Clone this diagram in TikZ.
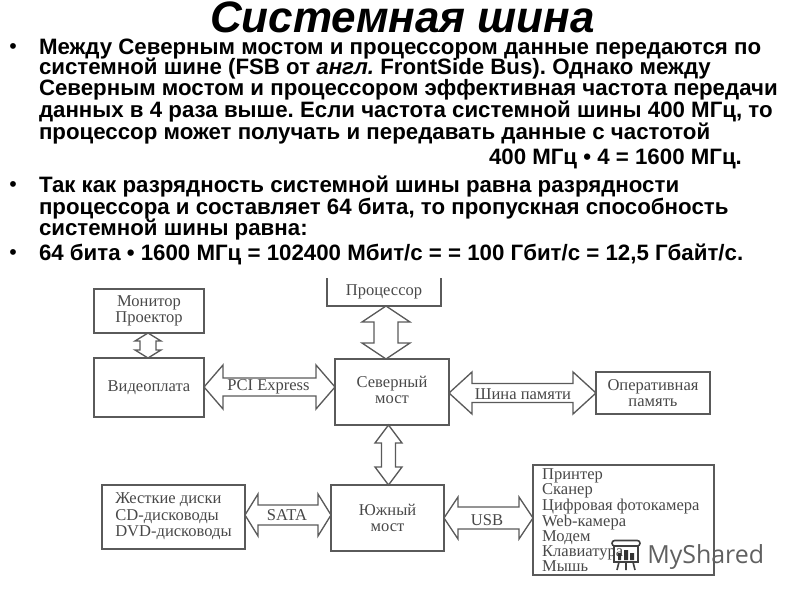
\documentclass[tikz,border=0pt]{standalone}
\usepackage{fontspec}
\setmainfont{Liberation Sans}
\newfontfamily\dgfont{Liberation Serif}
\newfontfamily\wmfont{Open Sans}
\usetikzlibrary{calc}
\definecolor{inkline}{HTML}{5A5A5A}
\definecolor{inktext}{HTML}{484848}
\definecolor{wmgray}{HTML}{606060}
\tikzset{
  slideline/.style={anchor=base west,inner sep=0pt,outer sep=0pt,font=\fontsize{16.7pt}{16.7pt}\selectfont\bfseries\frenchspacing,text=black},
  bullet/.style={anchor=base,inner sep=0pt,outer sep=0pt,font=\fontsize{16pt}{16pt}\selectfont,text=black},
  dbox/.style={draw=inkline,line width=1.1pt,inner sep=0pt,outer sep=0pt,text=inktext,font=\dgfont\fontsize{12.4pt}{12.4pt}\selectfont,align=center},
  nobox/.style={dbox,draw=none},
  bus/.style={draw=inkline,line width=1pt,fill=white,line join=miter},
  buslabel/.style={inner sep=0pt,text=inktext,font=\dgfont\fontsize{12.4pt}{12.4pt}\selectfont}
}
% box from pixel corners
\newcommand{\pxbox}[7][dbox]{\node[#1,minimum width={(#4-#2)*0.75pt},minimum height={(#5-#3)*0.75pt}] (#6) at ({(#2+#4)/2},{(#3+#5)/2}) {#7};}
% horizontal double arrow: from, to, shaft half, head half, head length (px)
\newcommand{\hbus}[5]{\draw[bus] let \p1=#1,\p2=#2 in
  (\x1,\y1) -- (\x1+#5*0.75pt,\y1+#4*0.75pt) -- (\x1+#5*0.75pt,\y1+#3*0.75pt) -- (\x2-#5*0.75pt,\y1+#3*0.75pt) -- (\x2-#5*0.75pt,\y1+#4*0.75pt) -- (\x2,\y2)
  -- (\x2-#5*0.75pt,\y1-#4*0.75pt) -- (\x2-#5*0.75pt,\y1-#3*0.75pt) -- (\x1+#5*0.75pt,\y1-#3*0.75pt) -- (\x1+#5*0.75pt,\y1-#4*0.75pt) -- cycle;}
\newcommand{\vbus}[5]{\draw[bus] let \p1=#1,\p2=#2 in
  (\x1,\y1) -- (\x1+#4*0.75pt,\y1-#5*0.75pt) -- (\x1+#3*0.75pt,\y1-#5*0.75pt) -- (\x1+#3*0.75pt,\y2+#5*0.75pt) -- (\x1+#4*0.75pt,\y2+#5*0.75pt) -- (\x2,\y2)
  -- (\x1-#4*0.75pt,\y2+#5*0.75pt) -- (\x1-#3*0.75pt,\y2+#5*0.75pt) -- (\x1-#3*0.75pt,\y1-#5*0.75pt) -- (\x1-#4*0.75pt,\y1-#5*0.75pt) -- cycle;}
\begin{document}
\begin{tikzpicture}[x=0.75pt,y=-0.75pt]
\useasboundingbox (0,0) rectangle (800,600);
\node[anchor=base,inner sep=0pt,font=\fontsize{33pt}{33pt}\selectfont\bfseries\itshape] (title) at (402.5,32.5) {Системная шина};
% bullets
\node[bullet] (b1) at (13,53) {•};
\node[bullet] (b2) at (13,191) {•};
\node[bullet] (b3) at (13,259) {•};
% text
\node[slideline] (l1) at (39,54) {Между Северным мостом и процессором данные передаются по};
\node[slideline] (l2) at (39,74.5) {системной шине (FSB от \textit{англ.} FrontSide Bus). Однако между};
\node[slideline] (l3) at (39,95.5) {Северным мостом и процессором эффективная частота передачи};
\node[slideline] (l4) at (39,117.5) {данных в 4 раза выше. Если частота системной шины 400 МГц, то};
\node[slideline] (l5) at (39,139) {процессор может получать и передавать данные с частотой};
\node[slideline] (l6) at (489,164.5) {400 МГц • 4 = 1600 МГц.};
\node[slideline] (l7) at (39,192.5) {Так как разрядность системной шины равна разрядности};
\node[slideline] (l8) at (39,214) {процессора и составляет 64 бита, то пропускная способность};
\node[slideline] (l9) at (39,235) {системной шины равна:};
\node[slideline] (l10) at (39,260.5) {64 бита • 1600 МГц = 102400 Мбит/с = = 100 Гбит/с = 12,5 Гбайт/с.};
% boxes
\pxbox{94}{289}{204}{333}{monitor}{Монитор\\Проектор}
\pxbox{94}{358}{204}{417}{video}{Видеоплата}
\pxbox[nobox]{327}{278}{441}{306}{cpu}{\raisebox{1.5pt}{Процессор}}
\draw[draw=inkline,line width=1.1pt] (cpu.north west) -- (cpu.south west) -- (cpu.south east) -- (cpu.north east);
\pxbox{335}{359}{449}{425}{north}{\raisebox{-2.25pt}{\begin{tabular}{@{}c@{}}Северный\\мост\end{tabular}}}
\pxbox{596}{372}{710}{414}{ram}{Оперативная\\память}
\pxbox{102}{485}{245}{549}{disks}{\begin{tabular}{@{}l@{}}Жесткие диски\\CD-дисководы\\DVD-дисководы\end{tabular}}
\pxbox{331}{485}{444}{551}{south}{Южный\\мост}
\pxbox{533}{465}{714}{575}{periph}{\begin{minipage}[c]{122pt}\raggedright\baselineskip=11.1pt Принтер\\Сканер\\Цифровая фотокамера\\Web-камера\\Модем\\Клавиатура\\Мышь\end{minipage}}
% connector axes
\coordinate (axmon) at (148,0);
\coordinate (axcpu) at (386,0);
\coordinate (axns) at (388.5,0);
\coordinate (axpci) at (0,387);
\coordinate (axmem) at (0,393);
\coordinate (axsata) at (0,515);
\coordinate (axusb) at (0,518);
\vbus{(monitor.south -| axmon)}{(video.north -| axmon)}{8}{13}{8}
\vbus{(cpu.south -| axcpu)}{(north.north -| axcpu)}{12}{24}{16}
\vbus{(north.south -| axns)}{(south.north -| axns)}{7}{13.5}{18}
\hbus{(video.east |- axpci)}{(north.west |- axpci)}{9}{22}{19}
\hbus{(north.east |- axmem)}{(ram.west |- axmem)}{9.5}{21}{23}
\hbus{(disks.east |- axsata)}{(south.west |- axsata)}{10}{21}{13}
\hbus{(south.east |- axusb)}{(periph.west |- axusb)}{11}{21}{14}
\node[buslabel] (lpci) at (268.5,387) {PCI Express};
\node[buslabel] (lmem) at (523,394) {Шина памяти};
\node[buslabel] (lsata) at (287,515) {SATA};
\node[buslabel] (lusb) at (487,520) {USB};
% watermark
\node[anchor=base west,inner sep=0pt,text=wmgray,font=\wmfont\fontsize{18.7pt}{18.7pt}\selectfont] (wm) at (647,563) {MyShared};
\draw[black!75,line width=1.2pt,rounded corners=2pt] (612,540.5) rectangle (640,546);
\draw[black!75,line width=1.2pt] (614,546) -- (614,562) -- (638,562) -- (638,546)
  (619,562) -- (617,570) (633,562) -- (635,570) (626,562) -- (626,570);
\fill[black!80] (618,553) rectangle (621,560) (624,550) rectangle (628,560) (630,553) rectangle (634,560);
\end{tikzpicture}
\end{document}
